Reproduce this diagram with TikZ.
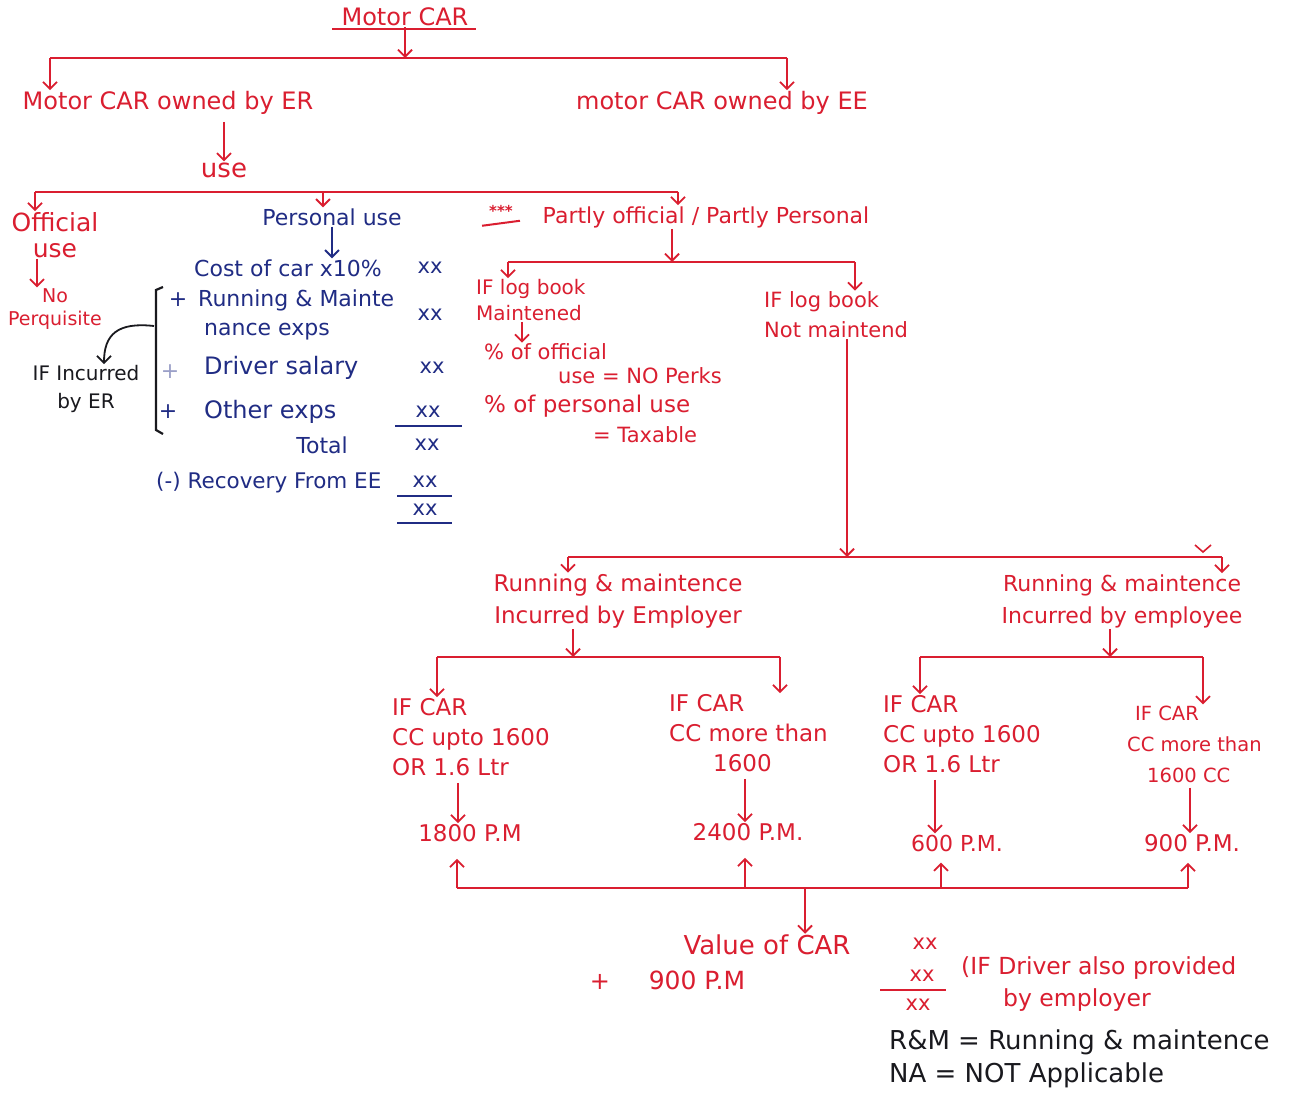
\documentclass[tikz,border=0pt]{standalone}
\usepackage{fontspec}
\setmainfont{DejaVu Sans}
\usetikzlibrary{arrows.meta}
\definecolor{inkred}{RGB}{218,30,48}
\definecolor{inkblue}{RGB}{32,44,132}
\definecolor{inkblack}{RGB}{25,25,30}
\tikzset{
  rline/.style={draw=inkred, line width=2pt},
  rarr/.style={draw=inkred, line width=1.8pt, -{Straight Barb[length=7pt,width=14pt,line width=1.8pt]}},
  barr/.style={draw=inkblue, line width=1.8pt, -{Straight Barb[length=7pt,width=14pt,line width=1.8pt]}},
  kline/.style={draw=inkblack, line width=2.2pt},
  karr/.style={draw=inkblack, line width=1.8pt, -{Straight Barb[length=7pt,width=14pt,line width=1.8pt]}},
  bline/.style={draw=inkblue, line width=1.8pt},
  rt/.style={text=inkred, font=\fontsize{24}{30}\selectfont, inner sep=1pt},
  rsmall/.style={text=inkred, font=\fontsize{21}{26}\selectfont, inner sep=1pt},
  leaf/.style={text=inkred, font=\fontsize{23}{30}\selectfont, inner sep=1pt, align=left},
  valt/.style={text=inkred, font=\fontsize{23}{30}\selectfont, inner sep=1pt},
  bt/.style={text=inkblue, font=\fontsize{22}{30}\selectfont, inner sep=1pt},
  bxx/.style={text=inkblue, font=\fontsize{21}{24}\selectfont, inner sep=1pt},
  rxx/.style={text=inkred, font=\fontsize{21}{24}\selectfont, inner sep=1pt},
  kt/.style={text=inkblack, font=\fontsize{26}{32}\selectfont, inner sep=1pt},
}
\begin{document}
\begin{tikzpicture}[x=1pt,y=-1pt]
\fill[white] (0,0) rectangle (1301,1094);
\useasboundingbox (0,0) rectangle (1301,1094);

% ---------- top level ----------
\node[rt] (title) at (405,17) {Motor CAR};
\draw[rline] ([xshift=-8pt,yshift=-2pt]title.south west) -- ([xshift=6pt,yshift=-2pt]title.south east);
\coordinate (b1L) at (50,58);
\coordinate (b1R) at (787,58);
\draw[rarr] (title.south) -- (title.south |- b1L);
\draw[rline] (b1L) -- (b1R);
\node[rt] (er) at (168,103) {Motor CAR owned by ER};
\node[rt] (ee) at (722,103) {motor CAR owned by EE};
\draw[rarr] (b1L) -- (b1L |- er.north);
\draw[rarr] (b1R) -- (b1R |- ee.north);

\node[rt, font=\fontsize{26}{30}\selectfont] (use) at (224,170) {use};
\draw[rarr] ([yshift=-6pt]er.south -| use.north) -- (use.north);

% ---------- kinds of use ----------
\coordinate (b2L) at (35,192);
\coordinate (b2M) at (323,192);
\coordinate (b2R) at (678,192);
\draw[rline] (b2L) -- (b2R);
\node[rt, align=center, font=\fontsize{25}{26}\selectfont] (official) at (55,235) {Official\\use};
\draw[rarr] (b2L) -- (b2L |- official.north);
\node[rsmall, align=center, font=\fontsize{19}{23}\selectfont] (noperq) at (55,309) {No\\Perquisite};
\draw[rarr] ([xshift=-18pt]official.south) -- ([xshift=-18pt]official.south |- noperq.north);

\node[bt] (personal) at (332,217) {Personal use};
\draw[rarr] (b2M) -- (b2M |- personal.north);

\node[rt, font=\fontsize{22}{30}\selectfont] (partly) at (706,217) {Partly official / Partly Personal};
\draw[rarr] (b2R) -- (b2R |- partly.north);
\node[text=inkred, font=\fontsize{15}{16}\selectfont\bfseries, inner sep=1pt] (stars) at (501,211) {***};
\draw[rline] ([xshift=-6pt,yshift=-8pt]stars.south west) -- ([xshift=6pt,yshift=-3pt]stars.south east);

% ---------- personal use computation ----------
\node[bt, anchor=west] (cost) at (193,268) {Cost of car x10\%};
\draw[barr] (personal.south) -- (personal.south |- cost.north);
\node[bt] (p1) at (178,300) {+};
\node[bt, anchor=west] (run1) at (197,300) {Running \& Mainte};
\node[bt, anchor=west] (run2) at (203,332) {nance exps};
\node[text=inkblue!45, font=\fontsize{22}{30}\selectfont, inner sep=1pt] (p2) at (170,372) {+};
\node[bt, anchor=west, font=\fontsize{24}{30}\selectfont] (driver) at (203,368) {Driver salary};
\node[bt] (p3) at (168,412) {+};
\node[bt, anchor=west, font=\fontsize{24}{30}\selectfont] (other) at (203,412) {Other exps};
\node[bt] (total) at (322,445) {Total};
\node[bt, anchor=west, font=\fontsize{21.5}{30}\selectfont] (recov) at (155,483) {(-) Recovery From EE};

\node[bxx] (x1) at (430,268) {xx};
\node[bxx] (x2) at (430,315) {xx};
\node[bxx] (x3) at (432,368) {xx};
\node[bxx] (x4) at (428,412) {xx};
\node[bxx] (x5) at (427,445) {xx};
\node[bxx] (x6) at (425,482) {xx};
\node[bxx] (x7) at (425,510) {xx};
\draw[bline] (395,426) -- (462,426);
\draw[bline] (397,496) -- (452,496);
\draw[bline] (397,523) -- (452,523);

% bracket grouping the expenses
\draw[kline] (163,287) -- (156,290) -- (156,430) -- (163,434);
\coordinate (brk) at (154,326);
\node[kt, align=center, font=\fontsize{20}{28}\selectfont] (incurred) at (86,389) {IF Incurred\\by ER};
\draw[karr] (brk) .. controls (118,322) and (104,334) .. ([xshift=18pt]incurred.north);

% ---------- partly official / partly personal ----------
\coordinate (b3L) at (508,262);
\coordinate (b3M) at (672,262);
\coordinate (b3R) at (855,262);
\draw[rline] (b3L) -- (b3R);
\draw[rarr] (partly.south -| b3M) -- (b3M);
\node[rsmall, anchor=west, align=left, font=\fontsize{20}{26}\selectfont] (logA) at (475,300) {IF log book\\Maintened};
\draw[rarr] (b3L) -- (b3L |- logA.north);
\node[rsmall, anchor=west] (perk1) at (483,352) {\% of official};
\node[rsmall, anchor=west] (perk2) at (557,376) {use = NO Perks};
\node[rsmall, anchor=west, font=\fontsize{23}{26}\selectfont] (perk3) at (483,406) {\% of personal use};
\node[rsmall, anchor=west] (perk4) at (592,435) {= Taxable};
\coordinate (xa) at (522,0);
\draw[rarr] (logA.south -| xa) -- (perk1.north -| xa);

\node[rt, anchor=west, align=left, font=\fontsize{21}{30}\selectfont] (logB) at (763,315) {IF log book\\Not maintend};
\draw[rarr] (b3R) -- (b3R |- logB.north);

% ---------- running and maintenance ----------
\coordinate (b4L) at (568,557);
\coordinate (b4M) at (847,557);
\coordinate (b4R) at (1222,557);
\draw[rarr] (logB.south -| b4M) -- (b4M);
\draw[rline] (b4L) -- (b4R);
\draw[inkred, line width=1.6pt] (1195,545) -- (1203,552) -- (1211,545);

\node[rt, align=center, font=\fontsize{23}{32}\selectfont] (rmA) at (618,601) {Running \& maintence\\Incurred by Employer};
\node[rt, align=center, font=\fontsize{22}{32}\selectfont] (rmB) at (1122,601) {Running \& maintence\\Incurred by employee};
\draw[rarr] (b4L) -- (b4L |- rmA.north);
\draw[rarr] (b4R) -- (b4R |- rmB.north);

\coordinate (b5aL) at (437,657);
\coordinate (b5aM) at (573,657);
\coordinate (b5aR) at (780,657);
\coordinate (b5bL) at (920,657);
\coordinate (b5bM) at (1110,657);
\coordinate (b5bR) at (1203,657);
\draw[rline] (b5aL) -- (b5aR);
\draw[rline] (b5bL) -- (b5bR);
\draw[rarr] (rmA.south -| b5aM) -- (b5aM);
\draw[rarr] (rmB.south -| b5bM) -- (b5bM);

% ---------- engine capacity cases ----------
\node[leaf, anchor=west] (leaf1) at (391,737) {IF CAR\\CC upto 1600\\OR 1.6 Ltr};
\node[leaf, anchor=west] (leaf2) at (668,733) {IF CAR\\CC more than\\\hspace*{44pt}1600};
\node[leaf, anchor=west] (leaf3) at (882,734) {IF CAR\\CC upto 1600\\OR 1.6 Ltr};
\node[leaf, anchor=west, font=\fontsize{19.5}{31}\selectfont] (leaf4) at (1126,744) {\hspace*{8pt}IF CAR\\CC more than\\\hspace*{20pt}1600 CC};
\draw[rarr] (b5aL) -- (b5aL |- leaf1.north);
\draw[rarr] (b5aR) -- (b5aR |- leaf2.north);
\draw[rarr] (b5bL) -- (b5bL |- leaf3.north);
\draw[rarr] (b5bR) -- (b5bR |- leaf4.north);

\node[valt] (val1) at (470,833) {1800 P.M};
\node[valt] (val2) at (748,832) {2400 P.M.};
\node[valt, font=\fontsize{22}{30}\selectfont] (val3) at (957,843) {600 P.M.};
\node[valt] (val4) at (1192,843) {900 P.M.};
\coordinate (xv1) at (458,0);
\coordinate (xv2) at (745,0);
\coordinate (xv3) at (935,0);
\coordinate (xv4) at (1190,0);
\draw[rarr, shorten <=6pt] (leaf1.south -| xv1) -- (val1.north -| xv1);
\draw[rarr, shorten <=6pt] (leaf2.south -| xv2) -- (val2.north -| xv2);
\draw[rarr, shorten <=6pt] (leaf3.south -| xv3) -- (val3.north -| xv3);
\draw[rarr, shorten <=4pt] (leaf4.south -| xv4) -- (val4.north -| xv4);

% ---------- collecting line ----------
\coordinate (b6a) at (457,888);
\coordinate (b6b) at (745,888);
\coordinate (b6m) at (805,888);
\coordinate (b6c) at (941,888);
\coordinate (b6d) at (1188,888);
\draw[rline] (b6a) -- (b6d);
\draw[rarr, shorten >=16pt] (b6a) -- (b6a |- val1.south);
\draw[rarr, shorten >=16pt] (b6b) -- (b6b |- val2.south);
\draw[rarr, shorten >=10pt] (b6c) -- (b6c |- val3.south);
\draw[rarr, shorten >=10pt] (b6d) -- (b6d |- val4.south);

% ---------- value of the perquisite ----------
\node[rt, font=\fontsize{26}{30}\selectfont] (valcar) at (767,945) {Value of CAR};
\draw[rarr] (b6m) -- (b6m |- valcar.north);
\node[rxx] (v1) at (925,944) {xx};
\node[rxx] (v2) at (922,976) {xx};
\node[rxx] (v3) at (918,1005) {xx};
\draw[rline] (880,990) -- (946,990);
\node[rt, font=\fontsize{24}{30}\selectfont] (plus) at (600,982) {+};
\node[rt, font=\fontsize{25}{30}\selectfont] (drv) at (697,980) {900 P.M};
\node[rt, anchor=west, align=left, font=\fontsize{23.5}{32}\selectfont] (note) at (960,984) {(IF Driver also provided\\\hspace*{42pt}by employer};

% ---------- abbreviations ----------
\node[kt, anchor=west] (rm) at (888,1042) {R\&M = Running \& maintence};
\node[kt, anchor=west] (na) at (888,1075) {NA = NOT Applicable};
\end{tikzpicture}
\end{document}
